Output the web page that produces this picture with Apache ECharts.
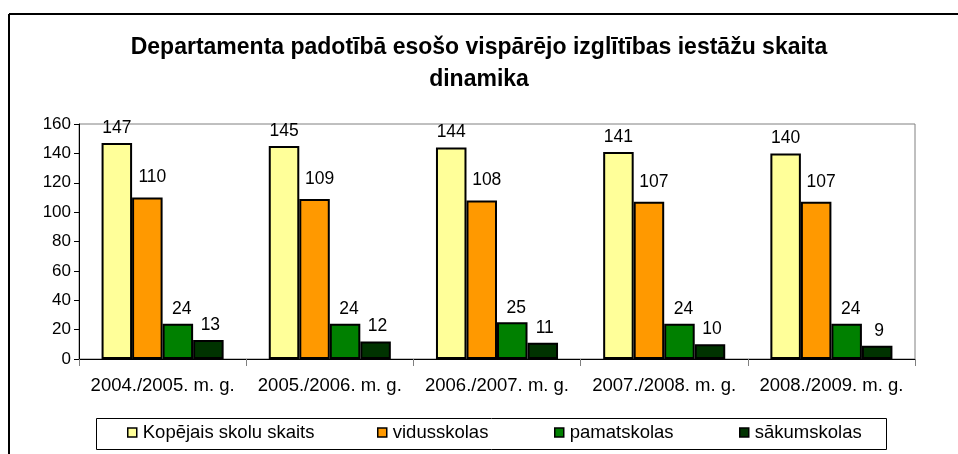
<!DOCTYPE html>
<html>
<head>
<meta charset="utf-8">
<script src="https://cdn.jsdelivr.net/npm/echarts@6/dist/echarts.min.js"></script>
<style>html,body{margin:0;padding:0;background:#fff;}#c{width:958px;height:454px;}</style>
</head>
<body>
<div id="c"></div>
<script>
const categories = ['2004./2005. m. g.', '2005./2006. m. g.', '2006./2007. m. g.', '2007./2008. m. g.', '2008./2009. m. g.'];
const seriesNames = ['Kopējais skolu skaits', 'vidusskolas', 'pamatskolas', 'sākumskolas'];
const kopejais = [147, 145, 144, 141, 140];
const vidusskolas = [110, 109, 108, 107, 107];
const pamatskolas = [24, 24, 25, 24, 24];
const sakumskolas = [13, 12, 11, 10, 9];
const yTicks = { min: 0, max: 160, interval: 20 };
const colors = ['#FFFF99', '#FF9900', '#008000', '#003300'];
const values = [kopejais, vidusskolas, pamatskolas, sakumskolas];
const legendLefts = [127, 377, 554, 739];
const labelOffsets = [[0, -2], [5, -7], [4, -1.5], [2, -2]];

const FONT = 'Liberation Sans, Arial, sans-serif';
const chart = echarts.init(document.getElementById('c'), null, { renderer: 'canvas' });

const series = seriesNames.map((name, i) => ({
  name: name,
  type: 'bar',
  data: values[i],
  barGap: '0%',
  barCategoryGap: '27%',
  itemStyle: { color: colors[i], borderColor: '#000', borderWidth: 2 },
  label: { show: true, position: 'top', distance: 4, offset: labelOffsets[i], color: '#000', fontSize: 17.5, fontFamily: FONT },
  emphasis: { disabled: true },
  animation: false
}));

const legends = seriesNames.map((name, i) => ({
  data: [name],
  left: legendLefts[i],
  top: 423,
  padding: 0,
  itemWidth: 9,
  itemHeight: 9,
  itemGap: 0,
  icon: 'rect',
  itemStyle: { borderColor: '#000', borderWidth: 1.5 },
  textStyle: { fontSize: 18.5, fontFamily: FONT, color: '#000', padding: [0, 0, 0, 1] },
  selectedMode: false
}));

chart.setOption({
  animation: false,
  backgroundColor: '#fff',
  title: {
    text: 'Departamenta padotībā esošo vispārējo izglītības iestāžu skaita\ndinamika',
    left: 'center',
    top: 27,
    textStyle: { fontSize: 23, fontWeight: 'bold', fontFamily: FONT, color: '#000', lineHeight: 32 }
  },
  legend: legends,
  grid: { left: 79, right: 43, top: 124, bottom: 95, show: true, borderColor: '#808080', borderWidth: 1, containLabel: false },
  xAxis: {
    type: 'category',
    data: categories,
    axisLine: { lineStyle: { color: '#000', width: 1 } },
    axisTick: { show: true, length: 7, lineStyle: { color: '#808080' } },
    axisLabel: { color: '#000', fontSize: 18.5, fontFamily: FONT, margin: 17, interval: 0 }
  },
  yAxis: {
    type: 'value',
    min: yTicks.min, max: yTicks.max, interval: yTicks.interval,
    axisLine: { show: true, lineStyle: { color: '#000', width: 1 } },
    axisTick: { show: true, length: 5, lineStyle: { color: '#000' } },
    splitLine: { show: false },
    axisLabel: { color: '#000', fontSize: 17, fontFamily: FONT, margin: 8 }
  },
  graphic: [
    { type: 'line', shape: { x1: 9, y1: 14, x2: 958, y2: 14 }, style: { stroke: '#000', lineWidth: 2 }, z: 10 },
    { type: 'line', shape: { x1: 9, y1: 14, x2: 9, y2: 454 }, style: { stroke: '#000', lineWidth: 2 }, z: 10 },
    { type: 'rect', shape: { x: 96.5, y: 418.5, width: 790, height: 31 }, style: { fill: 'none', stroke: '#000', lineWidth: 1 }, z: 0 }
  ],
  series: series
});
</script>
</body>
</html>
